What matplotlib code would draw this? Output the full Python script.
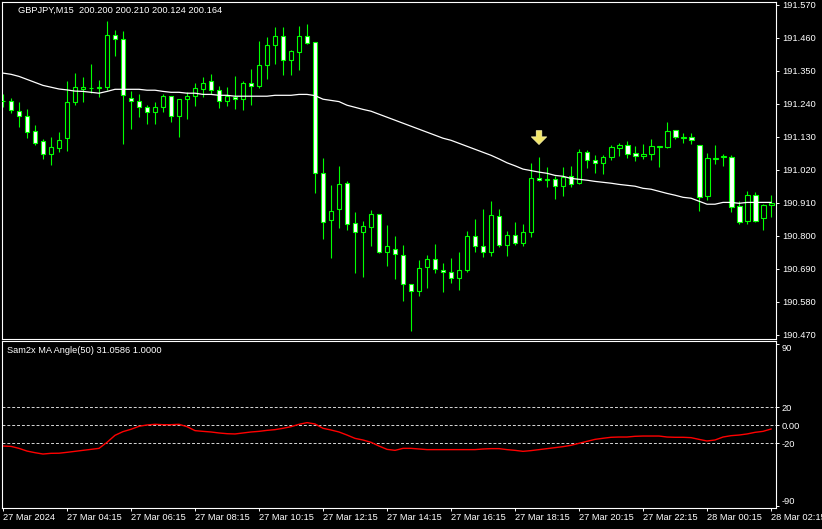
import matplotlib
matplotlib.use("Agg")
import matplotlib.pyplot as plt
import numpy as np

plt.rcParams['font.family'] = ['Liberation Sans', 'DejaVu Sans']

# GBPJPY M15 bars, 27 Mar 02:15 -> 28 Mar 02:15
opens = [191.248, 191.248, 191.215, 191.198, 191.148, 191.115, 191.073, 191.093, 191.125, 191.245,
         191.290, 191.291, 191.293, 191.295, 191.468, 191.455, 191.258, 191.248, 191.228, 191.211,
         191.228, 191.265, 191.198, 191.255, 191.265, 191.288, 191.315, 191.285, 191.248, 191.261,
         191.255, 191.308, 191.298, 191.368, 191.435, 191.465, 191.385, 191.411, 191.465, 191.445,
         191.008, 190.851, 190.888, 190.975, 190.841, 190.811, 190.828, 190.871, 190.745, 190.755,
         190.735, 190.638, 190.615, 190.695, 190.721, 190.685, 190.678, 190.658, 190.685, 190.798,
         190.765, 190.745, 190.865, 190.768, 190.801, 190.775, 190.811, 190.991, 190.985, 190.988,
         190.965, 190.998, 190.975, 191.078, 191.051, 191.041, 191.061, 191.091, 191.101, 191.075,
         191.065, 191.071, 191.096, 191.095, 191.151, 191.127, 191.128, 191.101, 190.931, 191.057,
         191.063, 191.061, 190.898, 190.848, 190.935, 190.858, 190.901]
highs = [191.271, 191.258, 191.246, 191.222, 191.168, 191.121, 191.129, 191.146, 191.316, 191.342,
         191.329, 191.372, 191.319, 191.515, 191.486, 191.481, 191.282, 191.271, 191.236, 191.246,
         191.271, 191.267, 191.256, 191.278, 191.309, 191.328, 191.339, 191.298, 191.295, 191.331,
         191.316, 191.356, 191.449, 191.462, 191.495, 191.495, 191.418, 191.498, 191.506, 191.445,
         191.058, 190.968, 191.031, 190.981, 190.878, 190.848, 190.885, 190.872, 190.835, 190.798,
         190.768, 190.639, 190.718, 190.735, 190.771, 190.708, 190.725, 190.745, 190.815, 190.855,
         190.888, 190.915, 190.888, 190.815, 190.845, 190.838, 191.041, 191.061, 191.028, 190.998,
         191.028, 191.031, 191.088, 191.085, 191.068, 191.068, 191.101, 191.108, 191.115, 191.098,
         191.105, 191.121, 191.100, 191.178, 191.152, 191.141, 191.141, 191.102, 191.075, 191.101,
         191.071, 191.068, 190.915, 190.948, 190.945, 190.905, 190.935]
lows = [191.228, 191.210, 191.163, 191.127, 191.103, 191.057, 191.037, 191.079, 191.083, 191.235,
        191.247, 191.275, 191.263, 191.286, 191.400, 191.107, 191.157, 191.195, 191.173, 191.173,
        191.213, 191.180, 191.130, 191.190, 191.232, 191.261, 191.272, 191.226, 191.232, 191.223,
        191.220, 191.237, 191.291, 191.323, 191.371, 191.337, 191.337, 191.353, 191.438, 190.943,
        190.790, 190.727, 190.827, 190.820, 190.677, 190.663, 190.767, 190.743, 190.700, 190.657,
        190.583, 190.483, 190.600, 190.627, 190.675, 190.613, 190.644, 190.620, 190.678, 190.745,
        190.728, 190.733, 190.761, 190.733, 190.768, 190.767, 190.797, 190.981, 190.963, 190.923,
        190.931, 190.961, 190.973, 191.027, 191.008, 191.005, 191.053, 191.065, 191.058, 191.050,
        191.055, 191.053, 191.030, 191.091, 191.121, 191.108, 191.105, 190.881, 190.918, 191.038,
        191.033, 190.878, 190.838, 190.838, 190.847, 190.818, 190.863]
closes = [191.250, 191.218, 191.198, 191.147, 191.110, 191.073, 191.096, 191.118, 191.245, 191.295,
          191.295, 191.293, 191.295, 191.468, 191.455, 191.268, 191.248, 191.228, 191.211, 191.228,
          191.265, 191.198, 191.255, 191.265, 191.291, 191.308, 191.285, 191.248, 191.265, 191.255,
          191.308, 191.298, 191.368, 191.435, 191.465, 191.385, 191.415, 191.465, 191.441, 191.008,
          190.845, 190.881, 190.971, 190.838, 190.811, 190.831, 190.871, 190.745, 190.765, 190.738,
          190.638, 190.615, 190.691, 190.721, 190.688, 190.678, 190.658, 190.685, 190.798, 190.765,
          190.745, 190.868, 190.768, 190.801, 190.775, 190.811, 190.991, 190.985, 190.988, 190.965,
          190.995, 190.971, 191.078, 191.051, 191.041, 191.061, 191.095, 191.101, 191.071, 191.065,
          191.071, 191.098, 191.097, 191.148, 191.128, 191.128, 191.118, 190.928, 191.058, 191.058,
          191.064, 190.895, 190.845, 190.935, 190.848, 190.901, 190.908]
moving_avg = [191.342, 191.338, 191.331, 191.321, 191.311, 191.301, 191.295, 191.289, 191.286, 191.282,
              191.281, 191.278, 191.275, 191.281, 191.288, 191.288, 191.288, 191.288, 191.285, 191.285,
              191.281, 191.278, 191.278, 191.275, 191.275, 191.271, 191.271, 191.268, 191.268, 191.265,
              191.265, 191.265, 191.265, 191.265, 191.268, 191.268, 191.268, 191.271, 191.271, 191.267,
              191.255, 191.251, 191.247, 191.235, 191.228, 191.221, 191.215, 191.205, 191.195, 191.185,
              191.175, 191.165, 191.155, 191.145, 191.135, 191.125, 191.118, 191.108, 191.098, 191.088,
              191.078, 191.068, 191.056, 191.043, 191.033, 191.022, 191.017, 191.012, 191.008, 191.001,
              190.998, 190.991, 190.988, 190.985, 190.981, 190.978, 190.975, 190.971, 190.968, 190.965,
              190.958, 190.955, 190.948, 190.941, 190.935, 190.928, 190.925, 190.915, 190.905, 190.905,
              190.911, 190.911, 190.908, 190.911, 190.911, 190.911, 190.911]
ma_angle = [-23.0, -23.4, -25.6, -28.6, -30.4, -31.9, -31.1, -31.0, -30.0, -28.9,
            -27.8, -26.7, -25.6, -18.9, -11.1, -7.0, -4.4, -1.1, 0.4, 1.1,
            0.7, 0.7, 1.1, -1.5, -5.9, -6.7, -7.4, -8.5, -9.3, -9.6,
            -8.5, -7.4, -6.7, -5.6, -4.8, -3.3, -1.5, 1.1, 3.0, 1.5,
            -3.3, -5.2, -7.4, -10.8, -14.5, -16.3, -18.9, -23.0, -26.7, -27.8,
            -25.6, -25.6, -26.3, -27.0, -27.0, -27.0, -27.0, -27.0, -27.0, -27.0,
            -26.3, -25.9, -25.9, -27.0, -27.8, -28.9, -28.1, -27.0, -25.9, -24.8,
            -23.7, -22.2, -20.0, -17.8, -15.6, -14.4, -13.3, -13.0, -13.0, -12.2,
            -11.9, -11.9, -11.9, -13.0, -13.3, -13.3, -13.7, -15.6, -17.4, -16.3,
            -13.0, -11.5, -10.8, -9.6, -7.8, -6.7, -4.1]
angle_levels = [20, 0, -20]

price_ticks = [190.470, 190.580, 190.690, 190.800, 190.910, 191.020,
               191.130, 191.240, 191.350, 191.460, 191.570]
angle_ticks = [-90, -20, 0, 20, 90]
angle_tick_labels = ['-90', '-20', '0.00', '20', '90']
time_labels = ['27 Mar 2024', '27 Mar 04:15', '27 Mar 06:15', '27 Mar 08:15', '27 Mar 10:15',
               '27 Mar 12:15', '27 Mar 14:15', '27 Mar 16:15', '27 Mar 18:15', '27 Mar 20:15',
               '27 Mar 22:15', '28 Mar 00:15', '28 Mar 02:15']

signal_bar = 67
signal_top, signal_tip = 191.150, 191.104

chart_title = 'GBPJPY,M15  200.200 200.210 200.124 200.164'
indicator_title = 'Sam2x MA Angle(50) 31.0586 1.0000'

GREEN = '#00ff00'
FS = 6.7

x = np.arange(len(opens))
o = np.array(opens)
c = np.array(closes)
bull = c >= o

fig = plt.figure(figsize=(8.22, 5.29), dpi=100, facecolor='black')
ax = fig.add_axes([0.0028, 0.35917, 0.94161, 0.63648], facecolor='black')
ax2 = fig.add_axes([0.0028, 0.03913, 0.94161, 0.31626], facecolor='black')

# candles
ax.vlines(x, lows, highs, color=GREEN, linewidth=0.8, zorder=2)
body = np.where(np.abs(c - o) < 0.0015, 0.0015 * np.where(bull, 1, -1), c - o)
ax.bar(x, body, bottom=o, width=0.62, color=np.where(bull, 'black', 'white'),
       edgecolor=GREEN, linewidth=0.8, zorder=3)
ax.plot(x, moving_avg, color='white', linewidth=0.9, zorder=4)

ax.annotate('', xy=(signal_bar, signal_tip), xytext=(signal_bar, signal_top),
            arrowprops=dict(arrowstyle='simple,head_length=0.55,head_width=1.1,tail_width=0.4',
                            fc='#f2e66a', ec='#fff8b0', lw=0.5, shrinkA=0, shrinkB=0),
            zorder=5)

ax.set_xlim(-0.0875, 96.66)
ax.set_ylim(190.4557, 191.578)
ax.yaxis.tick_right()
ax.set_yticks(price_ticks)
ax.set_yticklabels([f'{p:.3f}' for p in price_ticks])
ax.set_xticks([])
ax.tick_params(axis='y', colors='white', labelcolor='white', length=2.2, width=0.7,
               pad=2.0, labelsize=FS)
ax.text(0.0207, 0.975, chart_title, transform=ax.transAxes, color='white',
        fontsize=FS, va='center', ha='left')

# indicator panel
for lv in angle_levels:
    ax2.axhline(lv, color='#d8d8d8', linewidth=0.7, linestyle=(0, (3, 2)), zorder=1)
ax2.plot(x, ma_angle, color='#ff0000', linewidth=1.0, zorder=2)
ax2.set_xlim(-0.0875, 96.66)
ax2.set_ylim(-92.2, 93.7)
ax2.yaxis.tick_right()
ax2.set_yticks(angle_ticks)
ax2.set_yticklabels(angle_tick_labels)
ax2.set_xticks(np.arange(0, 97, 8))
ax2.set_xticklabels(time_labels)
ax2.tick_params(axis='y', colors='white', labelcolor='white', length=2.2, width=0.7,
                pad=1.5, labelsize=FS)
ax2.tick_params(axis='x', colors='white', labelcolor='white', length=2.5, width=0.7,
                pad=1.0, labelsize=FS)
for lab in ax2.get_xticklabels():
    lab.set_ha('left')
ylabs = ax2.get_yticklabels()
ylabs[0].set_va('bottom')
ylabs[-1].set_va('top')
ax2.text(0.0065, 0.942, indicator_title, transform=ax2.transAxes, color='white',
         fontsize=FS, va='center', ha='left')

for a in (ax, ax2):
    for s in a.spines.values():
        s.set_color('white')
        s.set_linewidth(0.8)

fig.savefig('out.png', dpi=100, facecolor='black')
